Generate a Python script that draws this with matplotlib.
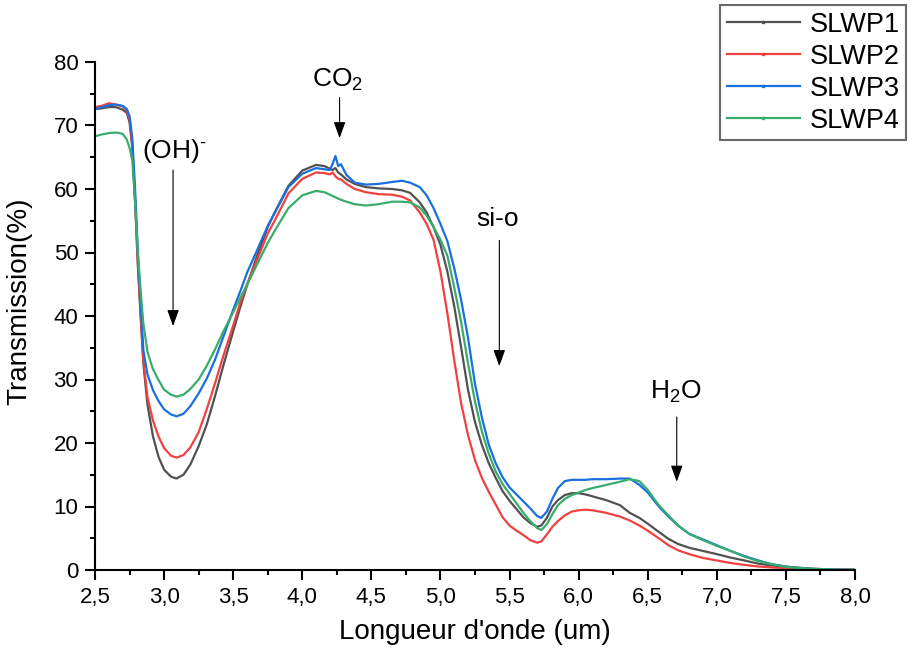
import numpy as np
import matplotlib
matplotlib.use("Agg")
import matplotlib.pyplot as plt
from matplotlib.lines import Line2D
from matplotlib.ticker import MultipleLocator, FuncFormatter

plt.rcParams['font.family'] = ['Liberation Sans', 'DejaVu Sans']
plt.rcParams['mathtext.fontset'] = 'custom'
plt.rcParams['mathtext.rm'] = 'Liberation Sans'
plt.rcParams['mathtext.it'] = 'Liberation Sans:italic'
plt.rcParams['mathtext.bf'] = 'Liberation Sans:bold'

# wavelength (um)
wl = [2.50, 2.55, 2.60, 2.65, 2.70, 2.73, 2.75, 2.77, 2.79, 2.81,
      2.83, 2.85, 2.88, 2.92, 2.96, 3.00, 3.05, 3.09, 3.14, 3.19,
      3.25, 3.31, 3.37, 3.43, 3.50, 3.55, 3.60, 3.67, 3.75, 3.80,
      3.90, 4.00, 4.10, 4.16, 4.20, 4.22, 4.24, 4.26, 4.28, 4.32,
      4.38, 4.46, 4.55, 4.65, 4.72, 4.78, 4.85, 4.90, 4.95, 5.00,
      5.05, 5.10, 5.15, 5.20, 5.25, 5.30, 5.35, 5.40, 5.45, 5.50,
      5.55, 5.60, 5.65, 5.70, 5.73, 5.77, 5.81, 5.85, 5.90, 5.95,
      6.00, 6.05, 6.10, 6.20, 6.30, 6.37, 6.44, 6.50, 6.58, 6.65,
      6.72, 6.80, 6.90, 7.00, 7.10, 7.20, 7.30, 7.40, 7.50, 7.60,
      7.70, 7.80, 7.90, 8.00]

slwp1 = [72.6, 72.7, 72.9, 72.9, 72.5, 72.0, 70.5, 66.5, 58.0, 48.0,
         40.0, 32.5, 26.0, 21.0, 17.8, 15.8, 14.7, 14.4, 15.0, 16.6,
         19.5, 23.0, 27.5, 32.3, 37.6, 41.3, 44.8, 49.3, 54.0, 56.3,
         60.5, 62.9, 63.8, 63.6, 63.2, 63.0, 63.3, 62.6, 62.3, 61.5,
         60.8, 60.3, 60.1, 60.0, 59.8, 59.4, 57.9, 56.3, 54.0, 51.2,
         47.0, 41.5, 35.0, 28.3, 23.3, 19.7, 16.8, 14.5, 12.4, 10.9,
         9.6, 8.3, 7.4, 6.8, 7.0, 8.2, 10.0, 11.0, 11.8, 12.1,
         12.1, 11.9, 11.6, 11.0, 10.2, 9.0, 8.2, 7.3, 6.0, 4.9,
         4.1, 3.5, 3.0, 2.5, 1.95, 1.5, 1.0, 0.7, 0.5, 0.35,
         0.2, 0.1, 0.05, 0.05]

slwp2 = [72.9, 73.1, 73.5, 73.3, 73.0, 72.4, 71.0, 67.0, 58.5, 48.5,
         40.5, 33.0, 27.2, 23.5, 21.0, 19.2, 18.0, 17.7, 18.1, 19.3,
         21.7, 25.4, 29.5, 33.8, 38.5, 42.0, 45.0, 48.7, 53.0, 55.0,
         59.3, 61.6, 62.6, 62.5, 62.3, 62.6, 62.0, 61.6, 61.5, 60.8,
         60.0, 59.5, 59.2, 59.1, 58.8, 58.2, 56.3, 54.5, 52.0, 47.0,
         40.4, 33.0, 26.2, 21.2, 17.3, 14.5, 12.3, 10.3, 8.3, 7.0,
         6.2, 5.5, 4.7, 4.3, 4.5, 5.6, 6.8, 7.7, 8.6, 9.2,
         9.4, 9.5, 9.4, 9.0, 8.4, 7.8, 7.0, 6.2, 5.0, 3.9,
         3.1, 2.5, 1.9, 1.5, 1.1, 0.8, 0.55, 0.4, 0.3, 0.2,
         0.1, 0.05, 0.03, 0.02]

slwp3 = [72.6, 72.9, 73.2, 73.3, 73.1, 72.6, 71.5, 68.0, 60.0, 50.0,
         42.0, 34.6, 30.8, 28.3, 26.6, 25.3, 24.5, 24.2, 24.6, 25.8,
         27.8, 30.2, 33.2, 36.8, 41.0, 43.8, 46.8, 50.2, 54.2, 56.2,
         60.3, 62.4, 63.3, 63.1, 63.0, 64.0, 65.2, 63.6, 63.9, 62.2,
         61.0, 60.7, 60.8, 61.1, 61.3, 61.0, 60.3, 59.0, 57.0, 54.5,
         51.8, 47.5, 42.5, 36.5, 29.3, 24.0, 19.7, 16.8, 14.6, 13.0,
         11.9, 10.8, 9.7, 8.5, 8.2, 9.2, 11.2, 12.9, 14.0, 14.2,
         14.2, 14.2, 14.3, 14.3, 14.4, 14.4, 13.4, 12.2, 10.0, 8.4,
         7.0, 5.7, 4.8, 3.9, 3.0, 2.2, 1.5, 0.9, 0.55, 0.3,
         0.15, 0.1, 0.05, 0.02]

slwp4 = [68.3, 68.6, 68.8, 68.9, 68.7, 67.8, 66.5, 64.5, 58.0, 50.0,
         44.0, 38.8, 34.3, 31.6, 29.9, 28.4, 27.6, 27.3, 27.6, 28.5,
         30.0, 32.2, 34.8, 37.6, 40.6, 42.8, 44.9, 48.0, 51.5, 53.4,
         57.0, 59.0, 59.7, 59.5, 59.1, 58.9, 58.7, 58.5, 58.3, 58.0,
         57.6, 57.4, 57.6, 58.0, 58.0, 57.9, 57.1, 55.8, 54.0, 52.0,
         49.5, 44.5, 39.0, 32.5, 26.5, 21.8, 18.3, 15.5, 13.5, 12.0,
         10.5, 9.0, 7.7, 6.6, 6.3, 7.2, 8.8, 10.2, 11.2, 11.8,
         12.2, 12.6, 12.9, 13.4, 13.9, 14.3, 14.0, 12.6, 10.2, 8.6,
         7.0, 5.7, 4.7, 3.8, 3.0, 2.1, 1.4, 0.9, 0.5, 0.3,
         0.2, 0.1, 0.05, 0.02]

labels = ['SLWP1', 'SLWP2', 'SLWP3', 'SLWP4']
colors = ['#515151', '#F14040', '#1A6FDF', '#37AD6B']

# band annotations: text, text x, text y, arrow x, arrow start, arrow tip
bands = [
    ('(OH)$^{\\text{-}}$', 2.84, 64.9, 3.065, 63.0, 38.4),
    ('CO$_{2}$', 4.256, 76.1, 4.27, 74.4, 68.0),
    ('si-o', 5.41, 54.2, 5.426, 51.9, 32.1),
    ('H$_{2}$O', 6.70, 27.0, 6.71, 24.1, 13.9),
]

fig = plt.figure(figsize=(9.14, 6.57), dpi=100)
ax = fig.add_axes([95 / 914, 1 - 570 / 657, 760 / 914, 508 / 657])

for y, c in zip([slwp1, slwp2, slwp3, slwp4], colors):
    ax.plot(wl, y, color=c, lw=1.6)

for txt, tx, ty, axx, y0, y1 in bands:
    ha = 'left' if txt.startswith('(') else 'center'
    ax.text(tx, ty, txt, fontsize=19, ha=ha, va='baseline')
    ax.annotate('', xy=(axx, y1), xytext=(axx, y0),
                arrowprops=dict(arrowstyle='-|>,head_length=0.5,head_width=0.18',
                                color='black', lw=0.8, mutation_scale=20,
                                shrinkA=0, shrinkB=0))

ax.set_xlim(2.5, 8.0)
ax.set_ylim(0, 80)
ax.xaxis.set_major_locator(MultipleLocator(0.5))
ax.xaxis.set_minor_locator(MultipleLocator(0.25))
ax.yaxis.set_major_locator(MultipleLocator(10))
ax.yaxis.set_minor_locator(MultipleLocator(5))
ax.xaxis.set_major_formatter(FuncFormatter(lambda v, p: f'{v:.1f}'.replace('.', ',')))

for s in ['top', 'right']:
    ax.spines[s].set_visible(False)
for s in ['left', 'bottom']:
    ax.spines[s].set_linewidth(1.5)
ax.tick_params(which='major', direction='out', length=7, width=1.5, labelsize=16, pad=5)
ax.tick_params(which='minor', direction='out', length=3.5, width=1.5)

ax.set_xlabel("Longueur d'onde (um)", fontsize=20, labelpad=8)
ax.set_ylabel('Transmission(%)', fontsize=20)
ax.yaxis.set_label_coords(-0.082, 0.53)

handles = [Line2D([], [], color=c, lw=1.6, marker='s', ms=2) for c in colors]
leg = fig.legend(handles, labels, loc='upper left', bbox_to_anchor=(720 / 914, 1 - 5 / 657),
                 fontsize=19.5, frameon=True, fancybox=False, edgecolor='#444444',
                 borderpad=0.25, labelspacing=0.22, handlelength=2.7, handletextpad=0.35,
                 borderaxespad=0, numpoints=1)
leg.get_frame().set_linewidth(1.5)

fig.savefig('out.png', dpi=100)
